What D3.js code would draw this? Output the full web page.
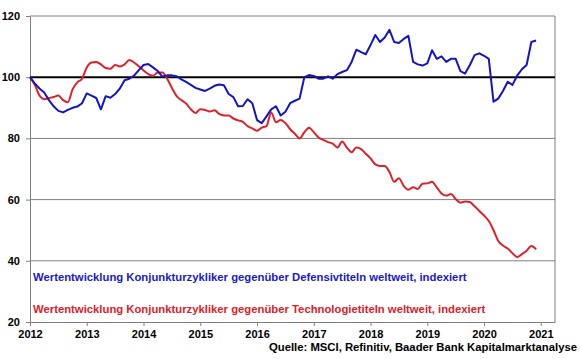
<!DOCTYPE html>
<html>
<head>
<meta charset="utf-8">
<script src="https://cdn.jsdelivr.net/npm/d3@7"></script>
<style>
  body { margin: 0; background: #fff; }
  svg { display: block; font-family: "Liberation Sans", Arial, sans-serif; }
  .axis text { font-size: 11px; font-weight: bold; fill: #000; }
  .axis path, .axis line { stroke: #808080; }
</style>
</head>
<body>
<div id="chart"></div>
<script>
// data: monthly values, Jan 2012 .. Dec 2020
const startYear = 2012;
const defensiv = [
  100, 98, 96.3, 95, 92.5, 90.5, 89, 88.5, 89.3, 90, 90.4, 91.5,
  94.7, 94, 93.2, 89.5, 93.8, 93.3, 94.5, 96.3, 99, 99.5, 100.5, 102.3,
  104, 104.3, 103.2, 102, 100.2, 100.6, 100.6, 100.3, 99.3, 98.5, 97.5, 96.5,
  96, 95.5, 96.3, 97.2, 97.6, 97.4, 94.5, 93.5, 90.5, 90.6, 92.8, 91.5,
  86, 85, 87.2, 89.5, 90.5, 87.5, 88.7, 91.5, 92.3, 93, 100, 100.7,
  100.4, 99.5, 99.5, 100.3, 99.5, 101, 101.7, 102.3, 105, 109, 108.2, 107.5,
  110.5, 113.8, 111.5, 113, 115.5, 111.5, 111.2, 112.5, 113.5, 105, 104.2, 103.8,
  104.5, 108.8, 106, 106.8, 105, 106, 106, 102, 101.2, 104, 107.2, 107.8,
  107, 106, 92, 93, 95.5, 98.5, 97.5, 100.5, 102.6, 104, 111.5, 112
];
const technologie = [
  100, 97.5, 94, 92.8, 93.2, 93.5, 94, 92.5, 91.8, 96, 98.3, 99.5,
  103.2, 104.8, 105, 104.2, 103, 102.8, 104, 103.5, 104.2, 105.6, 104.8, 103.6,
  102.2, 101, 100.5, 101.5, 101.5, 99.5, 96.5, 93.8, 92.5, 91.4, 89.5, 88.3,
  89.5, 89.3, 88.8, 89.2, 88, 87.5, 87.5, 86.5, 85.9, 85.4, 84, 83.3,
  82.5, 83.5, 84, 88.5, 85.3, 86, 85, 83, 81.5, 80, 82, 83.5,
  82, 80.3, 79.5, 78.8, 78.3, 77, 79, 77, 75.5, 77, 76.5, 75,
  73.5, 71.5, 71, 71, 69, 65.8, 67, 64.5, 63.2, 64, 63.5, 65.2,
  65.3, 65.8, 64, 62, 61.3, 61.8, 60.2, 59, 59.4, 59.2, 57.8, 56.3,
  54.8, 53, 50, 46.5, 45, 44, 42.5, 41.2, 42.2, 43.3, 44.8, 43.8
];
const yearTicks = [2012, 2013, 2014, 2015, 2016, 2017, 2018, 2019, 2020, 2021];
const valueTicks = [20, 40, 60, 80, 100, 120];
const legendBlue = "Wertentwicklung Konjunkturzykliker gegenüber Defensivtiteln weltweit, indexiert";
const legendRed = "Wertentwicklung Konjunkturzykliker gegenüber Technologietiteln weltweit, indexiert";
const source = "Quelle: MSCI, Refinitiv, Baader Bank Kapitalmarktanalyse";

// init
const width = 580, height = 359;
const margin = { top: 16, right: 25, bottom: 37, left: 30 };

const svg = d3.select("#chart").append("svg")
  .attr("width", width).attr("height", height);

// scales
const xScale = d3.scaleLinear()
  .domain([2012, 2021.25])
  .range([margin.left, width - margin.right]);

const yScale = d3.scaleLinear()
  .domain([20, 120])
  .range([height - margin.bottom, margin.top]);

// gridlines
svg.append("g")
  .selectAll("line")
  .data(valueTicks.filter(d => d !== 20 && d !== 100))
  .enter()
  .append("line")
  .attr("x1", margin.left).attr("x2", width - margin.right)
  .attr("y1", d => yScale(d)).attr("y2", d => yScale(d))
  .attr("stroke", "#808080").attr("stroke-width", 1);

// right border
svg.append("line")
  .attr("x1", width - margin.right).attr("x2", width - margin.right)
  .attr("y1", yScale(120)).attr("y2", yScale(20))
  .attr("stroke", "#808080");

// axes
svg.append("g")
  .attr("class", "axis")
  .attr("transform", `translate(0,${yScale(20)})`)
  .call(d3.axisBottom(xScale).tickValues(yearTicks).tickFormat(d3.format("d")).tickSize(4).tickSizeOuter(0).tickPadding(4));

svg.append("g")
  .attr("class", "axis")
  .attr("transform", `translate(${margin.left},0)`)
  .call(d3.axisLeft(yScale).tickValues(valueTicks).tickSize(4).tickSizeOuter(0).tickPadding(6));

// 100 line
svg.append("line")
  .attr("x1", margin.left).attr("x2", width - margin.right)
  .attr("y1", yScale(100)).attr("y2", yScale(100))
  .attr("stroke", "#000").attr("stroke-width", 2);

// lines
const xOf = (d, i) => xScale(startYear + i / 12);

svg.append("path")
  .datum(technologie)
  .attr("fill", "none")
  .attr("stroke", "#e0202a")
  .attr("stroke-width", 2)
  .attr("d", d3.line().x(xOf).y(d => yScale(d)).curve(d3.curveMonotoneX));

svg.append("path")
  .datum(defensiv)
  .attr("fill", "none")
  .attr("stroke", "#1414c4")
  .attr("stroke-width", 2)
  .attr("stroke-linejoin", "round")
  .attr("d", d3.line().x(xOf).y(d => yScale(d)));

// legend texts
svg.append("text")
  .attr("x", 33).attr("y", 281)
  .attr("font-size", 11.3).attr("font-weight", "bold")
  .attr("fill", "#1a1acc")
  .text(legendBlue);

svg.append("text")
  .attr("x", 33).attr("y", 313)
  .attr("font-size", 11.3).attr("font-weight", "bold")
  .attr("fill", "#e0202a")
  .text(legendRed);

svg.append("text")
  .attr("x", 577).attr("y", 351)
  .attr("text-anchor", "end")
  .attr("font-size", 11.3).attr("font-weight", "bold")
  .attr("fill", "#000")
  .text(source);
</script>
</body>
</html>
